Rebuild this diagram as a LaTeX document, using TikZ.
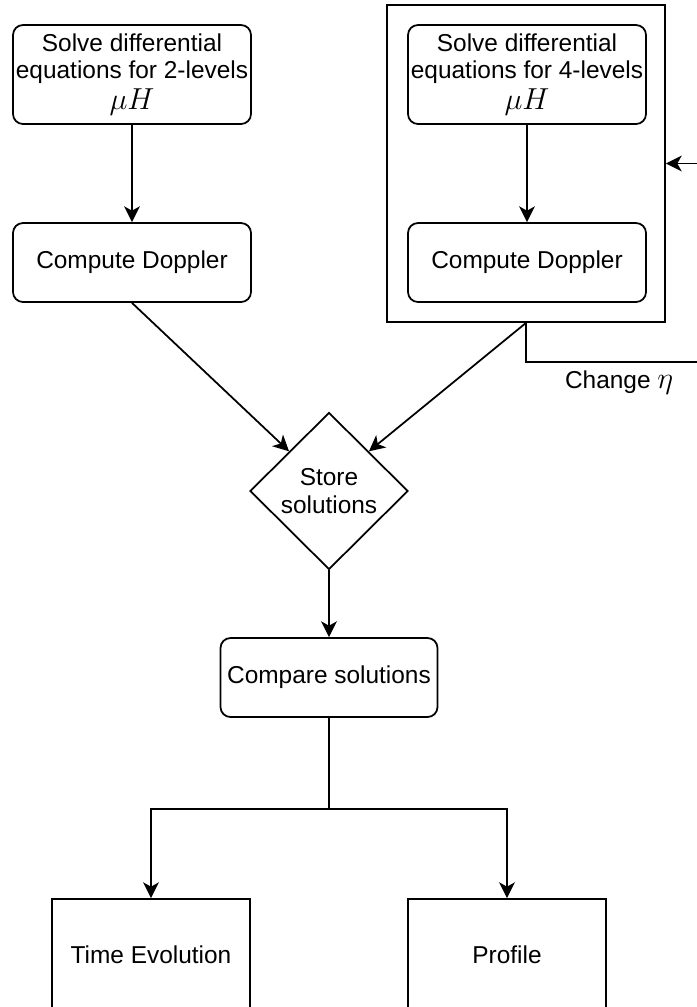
\documentclass[tikz,border=0pt]{standalone}
\usepackage{fontspec}
\setmainfont{Liberation Sans}
\usepackage{tikz}
\usetikzlibrary{arrows.meta,shapes,positioning}
\tikzstyle{arrow} = [line width=1pt,->,>={Stealth[length=9pt,width=9pt,inset=2.5pt]}]
\tikzstyle{solvebox} = [rectangle, rounded corners=0.2cm, minimum width=4.76cm, minimum height=1.58cm, inner xsep=0.05cm, text centered, align=center, draw, line width=1pt, font=\fontsize{13.9}{15.5}\selectfont]
\tikzstyle{resultbox} = [rectangle, minimum width=3.96cm, minimum height=2.24cm, text centered, align=center, draw, line width=1pt, font=\fontsize{13.9}{15.5}\selectfont]
\tikzstyle{decision} = [diamond, minimum width=3.16cm, minimum height=3.14cm, inner sep=0pt, align=center, draw, line width=1pt, font=\fontsize{13.9}{15.5}\selectfont]
\newcommand{\bigmath}[1]{{\fontsize{16.5}{17}\selectfont$#1$}}

\begin{document}
\begin{tikzpicture}
    \useasboundingbox (0,0) rectangle (13.94,-20.14);
    \clip (0,0) rectangle (13.94,-20.14);

    % Nodes
    \node[draw, line width=1pt, minimum width=5.56cm, minimum height=6.34cm] (fourgrp) at (10.52,-3.27) {};
    \node[solvebox, minimum height=1.98cm] (twolev) at (2.64,-1.49) {Solve differential\\equations for 2-levels\\[2pt]\bigmath{\mu H}};
    \node[solvebox] (twodop) at (2.64,-5.25) {Compute Doppler};
    \node[solvebox, minimum height=1.98cm] (fourlev) at (10.54,-1.49) {Solve differential\\equations for 4-levels\\[2pt]\bigmath{\mu H}};
    \node[solvebox] (fourdop) at (10.54,-5.25) {Compute Doppler};
    \node[decision] (store) at (6.58,-9.82) {Store\\solutions};
    \node[solvebox, minimum width=4.34cm] (compare) at (6.58,-13.55) {Compare solutions};
    \node[resultbox] (timeev) at (3.02,-19.1) {Time Evolution};
    \node[resultbox] (profile) at (10.14,-19.1) {Profile};

    % Arrows
    \draw[arrow] (twolev) -- (twodop);
    \draw[arrow] (fourlev) -- (fourdop);
    \draw[arrow] (twodop.south) -- (store.north west);
    \draw[arrow] (fourgrp.south) -- (store.north east);
    \draw[arrow] (store.south) -- (compare.north);
    \draw[line width=1pt] (compare.south) -- ++(0,-1.82) coordinate (split);
    \draw[arrow] (split) -| (timeev.north);
    \draw[arrow] (split) -| (profile.north);

    % Loop back
    \draw[arrow] (fourgrp.south) -- ++(0,-0.78)
        -- ++(3.88,0) node[pos=0.48, below=1pt, font=\fontsize{13.9}{15.5}\selectfont] {Change \bigmath{\eta}}
        |- (fourgrp.east);
\end{tikzpicture}
\end{document}
